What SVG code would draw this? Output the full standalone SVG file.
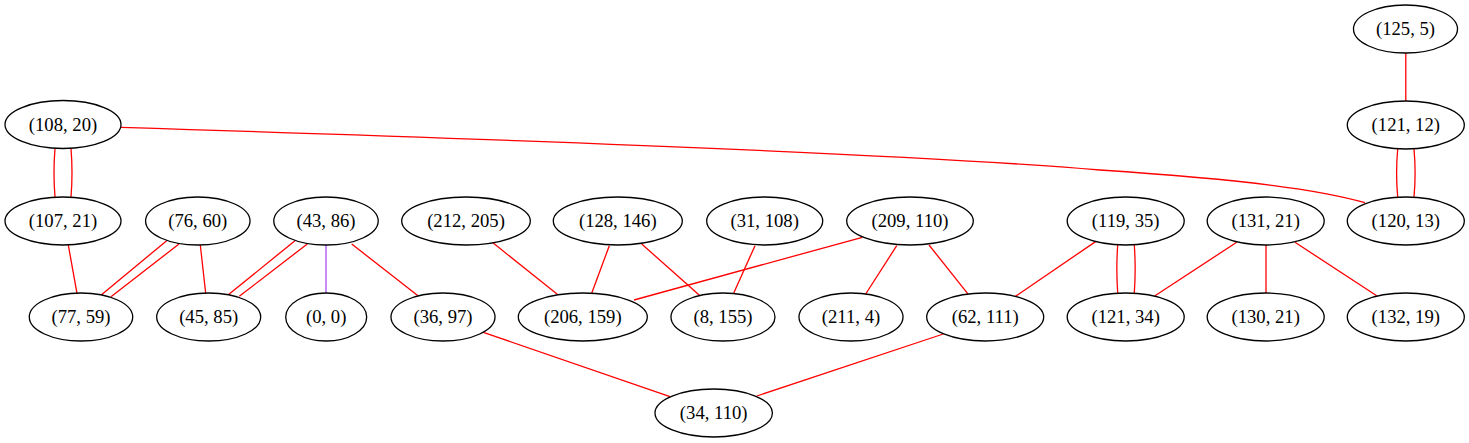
<svg xmlns="http://www.w3.org/2000/svg" width="1469" height="443" viewBox="0 0 1469 443">
<style>
.n ellipse{fill:#fff;stroke:#000;stroke-width:1.3}
.n text{font-size:18.67px;text-anchor:middle;fill:#000}
.e path{fill:none;stroke:#ff0000;stroke-width:1.3}
.e path.p{stroke:#a64ef5}
</style>
<rect width="1469" height="443" fill="#fff"/>
<g id="edges" class="e">
<path d="M1405.8,52.8 L1405.8,101"/>
<path d="M1397.7,149 Q1395.5,173 1397.7,197"/>
<path d="M1414,149 Q1416.2,173 1414,197"/>
<path d="M55,148.5 Q53,173 55,197"/>
<path d="M71,148.5 Q73,173 71,197"/>
<path d="M121,127.3 C400,136 900,153 1100,170 C1250,180 1320,190 1365,202.7"/>
<path d="M68.3,245 L77,293.3"/>
<path d="M166.7,240.7 L100,296"/>
<path d="M179,244 L111,296.7"/>
<path d="M200.3,245 L205.7,293.3"/>
<path d="M295,240.7 L227.7,295.3"/>
<path d="M307.3,244 L239.3,296.3"/>
<path class="p" d="M326,245 L326,293"/>
<path d="M351.7,244 L418.3,296"/>
<path d="M483.3,332.3 L670,396.7"/>
<path d="M943.3,334 L756.7,396"/>
<path d="M492.3,242.3 L557.3,294.3"/>
<path d="M609.3,245.7 L591.7,293.3"/>
<path d="M641.7,244 L700,295.7"/>
<path d="M755,245.7 L733.3,294"/>
<path d="M862.3,237.3 L634,300"/>
<path d="M896.7,245.7 L865.7,294"/>
<path d="M929,245 L968.3,294.3"/>
<path d="M1095.6,241.6 L1015.3,296.4"/>
<path d="M1117.7,245 Q1116,269 1117.7,293"/>
<path d="M1134.3,245 Q1136,269 1134.3,293"/>
<path d="M1236.7,242.3 L1155,295.7"/>
<path d="M1266,245 L1266,293"/>
<path d="M1295,242.3 L1376.7,295.7"/>
</g>
<g font-family="'Liberation Serif', 'DejaVu Serif', serif">
<g id="n125_5" class="n"><ellipse cx="1405.5" cy="29" rx="52" ry="24"/><text x="1405.5" y="35">(125, 5)</text></g>
<g id="n121_12" class="n"><ellipse cx="1405.8" cy="125" rx="58.5" ry="24"/><text x="1405.8" y="131">(121, 12)</text></g>
<g id="n120_13" class="n"><ellipse cx="1405.8" cy="221" rx="58.5" ry="24"/><text x="1405.8" y="227">(120, 13)</text></g>
<g id="n108_20" class="n"><ellipse cx="63" cy="124.5" rx="58" ry="24"/><text x="63" y="130.5">(108, 20)</text></g>
<g id="n107_21" class="n"><ellipse cx="63" cy="221" rx="58" ry="24"/><text x="63" y="227">(107, 21)</text></g>
<g id="n76_60" class="n"><ellipse cx="197.8" cy="221" rx="52.2" ry="24"/><text x="197.8" y="227">(76, 60)</text></g>
<g id="n43_86" class="n"><ellipse cx="326" cy="221" rx="52.2" ry="24"/><text x="326" y="227">(43, 86)</text></g>
<g id="n212_205" class="n"><ellipse cx="466" cy="221" rx="64.3" ry="24"/><text x="466" y="227">(212, 205)</text></g>
<g id="n128_146" class="n"><ellipse cx="617.8" cy="221" rx="64.5" ry="24"/><text x="617.8" y="227">(128, 146)</text></g>
<g id="n31_108" class="n"><ellipse cx="764.7" cy="221" rx="58" ry="24"/><text x="764.7" y="227">(31, 108)</text></g>
<g id="n209_110" class="n"><ellipse cx="910" cy="221" rx="63.3" ry="24"/><text x="910" y="227">(209, 110)</text></g>
<g id="n119_35" class="n"><ellipse cx="1125.7" cy="221" rx="58.5" ry="24"/><text x="1125.7" y="227">(119, 35)</text></g>
<g id="n131_21" class="n"><ellipse cx="1265.7" cy="221" rx="58.5" ry="24"/><text x="1265.7" y="227">(131, 21)</text></g>
<g id="n77_59" class="n"><ellipse cx="81" cy="317" rx="51.7" ry="24"/><text x="81" y="323">(77, 59)</text></g>
<g id="n45_85" class="n"><ellipse cx="208.7" cy="317" rx="52" ry="24"/><text x="208.7" y="323">(45, 85)</text></g>
<g id="n0_0" class="n"><ellipse cx="326.2" cy="317" rx="40.5" ry="24"/><text x="326.2" y="323">(0, 0)</text></g>
<g id="n36_97" class="n"><ellipse cx="443" cy="317" rx="52" ry="24"/><text x="443" y="323">(36, 97)</text></g>
<g id="n206_159" class="n"><ellipse cx="582.8" cy="317" rx="64.5" ry="24"/><text x="582.8" y="323">(206, 159)</text></g>
<g id="n8_155" class="n"><ellipse cx="723" cy="317" rx="52" ry="24"/><text x="723" y="323">(8, 155)</text></g>
<g id="n211_4" class="n"><ellipse cx="851" cy="317" rx="52" ry="24"/><text x="851" y="323">(211, 4)</text></g>
<g id="n62_111" class="n"><ellipse cx="985.2" cy="317" rx="58.5" ry="24"/><text x="985.2" y="323">(62, 111)</text></g>
<g id="n121_34" class="n"><ellipse cx="1125.7" cy="317" rx="58.5" ry="24"/><text x="1125.7" y="323">(121, 34)</text></g>
<g id="n130_21" class="n"><ellipse cx="1265.7" cy="317" rx="58.5" ry="24"/><text x="1265.7" y="323">(130, 21)</text></g>
<g id="n132_19" class="n"><ellipse cx="1405.8" cy="317" rx="58.5" ry="24"/><text x="1405.8" y="323">(132, 19)</text></g>
<g id="n34_110" class="n"><ellipse cx="713.7" cy="413" rx="58.7" ry="24"/><text x="713.7" y="419">(34, 110)</text></g>
</g>
</svg>
